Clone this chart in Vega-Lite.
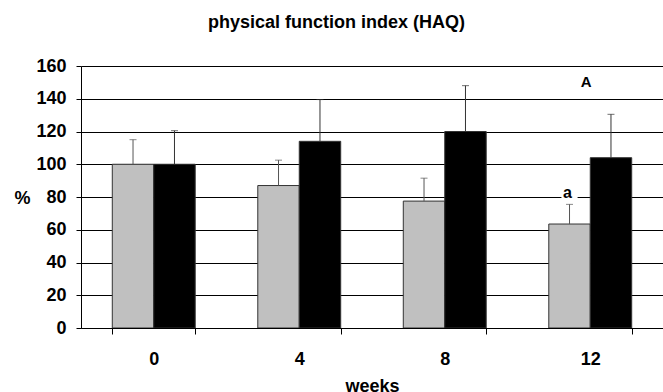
{
  "$schema": "https://vega.github.io/schema/vega-lite/v6.json",
  "autosize": "none",
  "width": 582,
  "height": 262,
  "padding": {"left": 81, "top": 66, "right": 0, "bottom": 64},
  "background": "white",
  "config": {
    "view": {"stroke": null},
    "font": "Liberation Sans",
    "axis": {"labelFont": "Liberation Sans", "titleFont": "Liberation Sans", "labelFontWeight": "bold", "titleFontWeight": "bold", "labelColor": "#000", "titleColor": "#000", "labelFontSize": 18, "titleFontSize": 18}
  },
  "title": {"text": "physical function index (HAQ)", "font": "Liberation Sans", "fontSize": 18, "fontWeight": "bold", "color": "#000", "anchor": "middle", "dx": -35.5, "baseline": "alphabetic", "offset": 11},
  "datasets": {
    "bars": [
      {"week": "0", "group": "group 1", "value": 100, "upper": 115},
      {"week": "0", "group": "group 2", "value": 100, "upper": 120.5},
      {"week": "4", "group": "group 1", "value": 87, "upper": 102.5},
      {"week": "4", "group": "group 2", "value": 114, "upper": 139.5},
      {"week": "8", "group": "group 1", "value": 77.5, "upper": 91.5},
      {"week": "8", "group": "group 2", "value": 120, "upper": 148},
      {"week": "12", "group": "group 1", "value": 63.5, "upper": 75.5},
      {"week": "12", "group": "group 2", "value": 104, "upper": 130.5}
    ],
    "smalla": [{"week": "12", "group": "group 1", "pos": 82.5, "label": "a"}],
    "bigA": [{"week": "12", "pos": 150, "label": "A"}]
  },
  "layer": [
    {
      "data": {"name": "bars"},
      "mark": {"type": "bar", "stroke": "#333333", "strokeWidth": 1, "opacity": 1, "fillOpacity": 1},
      "encoding": {
        "x": {
          "field": "week", "type": "ordinal", "sort": ["0", "4", "8", "12"],
          "scale": {"type": "band", "paddingInner": 0.43, "paddingOuter": 0.215},
          "axis": {"title": "weeks", "labelAngle": 0, "tickBand": "extent", "domainColor": "#000", "tickColor": "#000", "tickSize": 6, "labelPadding": 16, "labelBaseline": "top", "titlePadding": 9, "grid": false, "zindex": 1}
        },
        "xOffset": {"field": "group", "type": "nominal", "sort": ["group 1", "group 2"]},
        "y": {
          "field": "value", "type": "quantitative",
          "scale": {"domain": [0, 160], "nice": false},
          "axis": {"title": "%", "values": [0, 20, 40, 60, 80, 100, 120, 140, 160], "tickCount": 12, "zindex": 0, "labelOverlap": false, "labelBound": false, "labelFlush": false, "titleAngle": 0, "titleAlign": "center", "titleBaseline": "middle", "titleX": -59, "titleY": 132, "grid": true, "gridColor": "#000", "gridOpacity": 1, "gridWidth": 1, "domainColor": "#000", "tickColor": "#000", "tickSize": 5, "labelPadding": 10}
        },
        "fill": {"field": "group", "type": "nominal", "scale": {"domain": ["group 1", "group 2"], "range": ["#C0C0C0", "#000000"]}, "legend": null}
      }
    },
    {
      "data": {"name": "bars"},
      "mark": {"type": "rule", "strokeWidth": 1},
      "encoding": {
        "x": {"field": "week", "type": "ordinal", "sort": ["0", "4", "8", "12"]},
        "xOffset": {"field": "group", "type": "nominal"},
        "y": {"field": "value", "type": "quantitative"},
        "y2": {"field": "upper"},
        "color": {"field": "group", "type": "nominal", "scale": {"domain": ["group 1", "group 2"], "range": ["#555555", "#333333"]}, "legend": null}
      }
    },
    {
      "data": {"name": "bars"},
      "mark": {"type": "tick", "size": 7, "thickness": 1, "orient": "horizontal"},
      "encoding": {
        "x": {"field": "week", "type": "ordinal", "sort": ["0", "4", "8", "12"]},
        "xOffset": {"field": "group", "type": "nominal"},
        "y": {"field": "upper", "type": "quantitative"},
        "color": {"field": "group", "type": "nominal", "legend": null}
      }
    },
    {
      "data": {"name": "smalla"},
      "mark": {"type": "point", "shape": "square", "filled": true, "color": "white", "size": 260, "opacity": 1},
      "encoding": {
        "x": {"field": "week", "type": "ordinal", "sort": ["0", "4", "8", "12"]},
        "xOffset": {"field": "group", "type": "nominal"},
        "y": {"field": "pos", "type": "quantitative"}
      }
    },
    {
      "data": {"name": "smalla"},
      "mark": {"type": "text", "font": "Liberation Sans", "fontWeight": "bold", "fontSize": 16, "baseline": "middle", "align": "center", "dx": -2, "color": "#000"},
      "encoding": {
        "x": {"field": "week", "type": "ordinal", "sort": ["0", "4", "8", "12"]},
        "xOffset": {"field": "group", "type": "nominal"},
        "y": {"field": "pos", "type": "quantitative"},
        "text": {"field": "label"}
      }
    },
    {
      "data": {"name": "bigA"},
      "mark": {"type": "text", "font": "Liberation Sans", "fontWeight": "bold", "fontSize": 15, "baseline": "middle", "align": "center", "dx": -4, "color": "#000"},
      "encoding": {
        "x": {"field": "week", "type": "ordinal", "sort": ["0", "4", "8", "12"]},
        "y": {"field": "pos", "type": "quantitative"},
        "text": {"field": "label"}
      }
    }
  ]
}
